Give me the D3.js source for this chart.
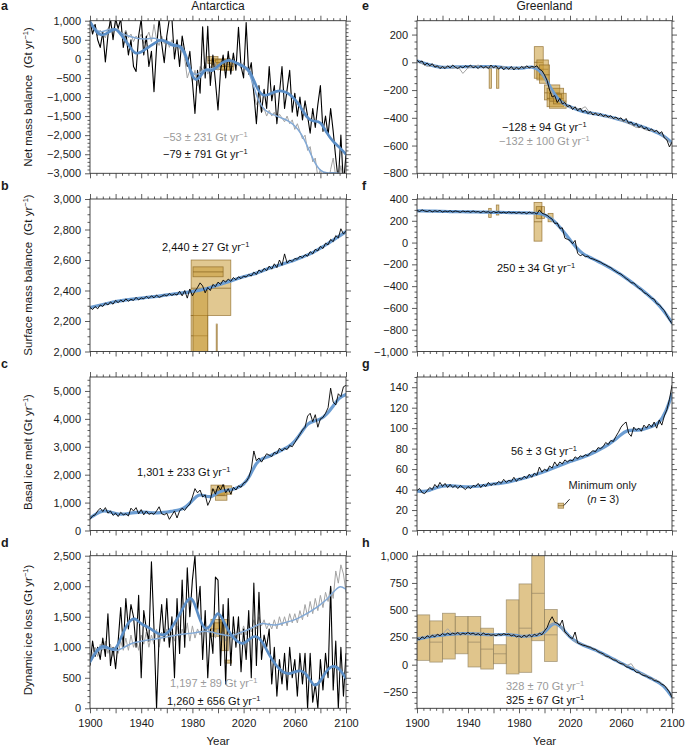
<!DOCTYPE html>
<html><head><meta charset="utf-8">
<script src="https://cdn.jsdelivr.net/npm/d3@7"></script>
<style>
body{margin:0;background:#fff}
svg{display:block}
text{font-family:"Liberation Sans",Arial,Helvetica,sans-serif;fill:#1a1a1a}
</style>
</head><body>
<svg id="chart" width="685" height="747"></svg>
<script>
// ---------------- DATA ----------------
const years2 = d3.range(1900, 2101, 2);   // annual-ish raw series (2-yr sampling)
const years4 = d3.range(1900, 2101, 4);
const years5 = d3.range(1900, 2101, 5);   // smoothed series
const xTickLabels = [1900, 1940, 1980, 2020, 2060, 2100];

// a: Antarctica net mass balance
const blackA = [1000,650,900,500,300,700,-80,600,1050,500,
  1050,800,1050,300,700,100,500,-200,-330,600,
  1050,100,600,-200,200,-860,300,1050,400,-100,
  600,1050,1050,0,500,-200,600,200,-200,200,
  -600,-1430,-300,-900,840,-500,850,-700,100,-600,
  -1340,-300,100,-500,200,-400,150,-300,830,-200,
  -500,950,-400,-100,-900,-1700,-700,-1400,-800,-1300,
  -200,-1100,-700,-1700,-900,-200,-1300,-800,-300,-1400,
  -900,-1500,-1000,-1600,-1100,-1500,-1950,-1300,-1800,-1200,
  -700,-1900,-1500,-2000,-1300,-1900,-2600,-3200,-2000,-3300,
  -2500];
const grayA = [950,800,900,600,750,650,550,800,900,750,
  950,800,650,600,750,550,650,450,600,500,
  650,400,550,700,450,900,500,350,600,400,
  550,300,500,350,450,250,400,0,-500,-300,
  -600,-300,-700,-200,-300,-100,-400,-200,-350,-100,
  -300,-100,0,-150,50,-100,0,-200,-100,-250,
  -100,-300,-200,-500,-900,-1200,-1100,-1400,-1300,-1500,
  -1350,-1500,-1400,-1600,-1450,-1550,-1650,-1500,-1700,-1600,
  -1850,-1700,-1900,-2100,-2000,-2400,-2300,-2700,-2600,-3100,
  -2900,-3200,-3000,-3300,-2900,-2600,-3100,-3300,-2800,-3200,
  -3300];
const blueA = [975,680,600,700,830,600,380,110,170,290,400,520,450,320,380,150,-560,-560,-220,-360,
  -180,-60,-20,-120,-200,-280,-760,-990,-930,-850,-830,-900,-1050,-1280,-1580,-1650,-1620,-1950,-2180,-2320,-2500];
const lblueA = [975,720,700,780,800,650,600,550,520,520,560,480,460,400,330,50,-450,-400,-250,-280,
  -200,-60,-40,-130,-200,-350,-1000,-1300,-1430,-1480,-1560,-1620,-1750,-1950,-2300,-2700,-2950,-3000,-2980,-3000,-3050];
const boxesA = [[1992,2000,-120,60,-40],[1995,2010,-280,0,-150],[2002,2012,-300,-80,-200],[1998,2006,-200,-20,-100]];

// b: Antarctica surface mass balance
const blackB = [2290,2275,2295,2280,2305,2295,2318,2305,2325,2310,
  2335,2320,2338,2325,2345,2330,2342,2335,2355,2338,
  2352,2345,2362,2348,2365,2352,2370,2355,2362,2372,
  2365,2380,2368,2378,2370,2395,2365,2400,2350,2410,
  2365,2395,2420,2450,2430,2385,2420,2400,2440,2425,
  2455,2440,2468,2455,2475,2460,2485,2470,2490,2478,
  2495,2488,2505,2495,2520,2505,2535,2520,2545,2530,
  2560,2540,2575,2550,2600,2565,2640,2580,2600,2590,
  2610,2605,2625,2615,2635,2625,2655,2640,2670,2660,
  2690,2675,2710,2700,2735,2720,2760,2745,2805,2770,
  2790];
const blueB = [2288,2298,2308,2318,2328,2334,2340,2345,2350,2356,2360,2365,2371,2376,2382,2388,2393,2400,2410,2422,
  2437,2450,2463,2477,2491,2502,2513,2530,2546,2559,2572,2586,2600,2616,2633,2653,2677,2703,2731,2758,2786];
const boxesB = [[1979,2010,2236,2600,2415],[1979,1992,1900,2236,2103],[1980.5,1992,1900,2405,null],
  [1980.5,2004,2490,2555,2522],[1998.6,1999.4,1990,2180,null]];

// c: Antarctica basal ice melt
const blackC = [400,520,560,700,800,680,820,620,700,540,
  620,500,650,560,600,520,800,700,820,600,
  750,560,700,580,620,580,700,850,600,560,
  620,400,550,700,450,700,800,720,850,950,
  1200,1500,1350,1450,1200,1280,900,1100,1500,1300,
  1600,1450,1650,1350,1500,1300,1550,1450,1600,1550,
  1700,1750,1900,2200,2850,2500,2600,2450,2600,2750,
  2700,2650,2800,2750,2950,2850,2950,2900,3050,3000,
  3150,3300,3450,3600,3700,4100,4200,3900,4150,3700,
  4000,4050,4200,4400,5100,4600,4500,4900,4800,5150,
  5200];
const blueC = [450,600,720,680,600,580,610,640,660,650,630,640,660,700,730,830,1080,1320,1230,1180,
  1380,1440,1450,1530,1630,1950,2460,2590,2650,2770,2890,2990,3190,3500,3850,3920,3980,4160,4460,4780,4870];
const boxesC = [[1994.5,2005,1265,1627,1450],[2000,2010.7,1300,1600,1420],[1998,2007,1084,1400,1250]];

// d: Antarctica dynamic ice loss
const blackD = [700,1100,850,1000,800,1150,850,1550,700,1000,
  650,1100,1650,1000,1800,1300,1700,1500,1000,1850,
  500,1600,1300,1100,2400,1300,0,1200,1700,1100,
  1800,1000,1500,500,1800,900,2100,1000,2300,1500,
  2100,2500,1600,2000,800,1600,500,1300,900,2150,
  2100,700,1700,400,1800,700,1500,1000,1500,600,
  1300,800,1600,500,2050,700,1900,800,1200,1000,
  1300,400,1000,200,800,400,900,300,1000,500,
  800,200,900,400,900,0,900,100,400,0,
  800,300,900,500,2000,300,1100,0,1000,200,
  900];
const grayD = [750,900,1000,850,1050,950,1100,900,1050,850,
  1000,900,1100,950,1150,950,1200,1000,1150,950,
  1200,1050,1250,1000,1200,1050,1300,1000,1250,1100,
  1300,1050,1250,1100,1350,1100,1300,1150,1400,1100,
  1350,1150,1300,1200,1400,1250,1350,1150,1300,1150,
  1300,1100,1250,1100,1300,1150,1250,1150,1350,1200,
  1350,1200,1400,1250,1450,1300,1500,1350,1450,1300,
  1400,1300,1450,1300,1500,1350,1500,1350,1550,1400,
  1550,1400,1600,1450,1700,1500,1750,1550,1800,1600,
  1850,1650,1900,1750,2000,1800,2250,2050,2350,2200,
  1900];
const blueD = [760,950,1040,980,930,1200,1420,1500,1370,1340,1260,1200,1200,1360,1530,1750,1860,1480,1260,1360,
  1640,1390,1200,1090,1040,1150,1200,1090,870,710,600,550,600,630,550,330,440,630,710,650,490];
const lblueD = [760,930,1000,980,930,980,1040,1080,1100,1120,1130,1150,1170,1190,1210,1220,1230,1250,1270,1250,
  1220,1200,1180,1220,1260,1300,1360,1400,1370,1360,1390,1420,1450,1500,1560,1620,1700,1780,1900,2020,1950];
const boxesD = [[1994.5,2003,1180,1457,1300],[2002,2008,944,1457,1200],[1997,2004,1230,1400,null],[2005.5,2010.5,740,790,null]];

// e: Greenland net mass balance
const blackE = [15,0,10,-20,-5,-25,-10,-35,-25,-45,
  -30,-45,-25,-40,-20,-35,-45,-30,-40,-25,
  -35,-20,-40,-30,-45,-25,-40,-30,-45,-20,
  -40,-25,-50,-30,-55,-35,-50,-30,-55,-35,
  -50,-30,-45,-25,-40,-30,-35,-25,-50,-60,
  -90,-130,-200,-250,-240,-290,-260,-300,-290,-320,
  -310,-340,-320,-350,-330,-360,-345,-370,-355,-380,
  -365,-385,-370,-390,-380,-395,-385,-405,-395,-410,
  -400,-425,-405,-440,-430,-455,-440,-470,-455,-480,
  -470,-495,-480,-500,-490,-515,-500,-545,-560,-610,
  -575];
const grayE = [10,-10,-30,-20,-30,-40,-30,-45,-30,-80,-40,-30,-20,-40,-30,-35,-40,-30,-50,-40,
  -45,-30,-40,-35,-45,-110,-180,-260,-280,-300,-325,-330,-340,-320,-370,-370,-380,-390,-400,-405,
  -420,-430,-450,-470,-470,-490,-490,-500,-520,-555,-590];
const blueE = [10,-5,-19,-30,-38,-35,-33,-32,-31,-31,-32,-31,-31,-35,-40,-42,-43,-38,-31,-45,
  -100,-190,-260,-300,-320,-340,-355,-365,-372,-380,-390,-402,-415,-430,-444,-460,-475,-492,-512,-540,-580];
const boxesE = [[1956.6,1958.4,-187,-43,null],[1962.4,1964.2,-187,-43,null],
  [1992,1999,-115,113,0],[1994,2003,-127,17,-50],[1996,2004,-151,-19,-90],
  [2000,2012,-271,-163,-220],[2002,2015,-320,-187,-260],[2004,2017,-331,-223,-280],[2007,2013.5,-300,-230,null]];

// f: Greenland surface mass balance
const blackF = [295,285,300,290,285,295,282,292,285,295,
  280,290,283,292,280,290,285,278,290,282,
  288,278,290,280,285,275,288,278,283,270,
  285,275,282,272,280,270,282,272,278,268,
  280,270,278,265,280,270,275,262,300,270,
  260,250,230,215,175,180,130,135,40,30,
  20,-10,20,-100,-120,-110,-130,-125,-145,-150,
  -160,-170,-180,-195,-205,-220,-230,-250,-265,-280,
  -290,-310,-330,-345,-370,-370,-395,-420,-430,-460,
  -470,-490,-510,-520,-560,-570,-600,-625,-670,-710,
  -745];
const blueF = [292,290,289,288,286,285,284,283,282,281,280,279,278,277,276,275,274,273,272,268,
  258,225,170,100,25,-50,-105,-132,-162,-190,-222,-258,-294,-335,-377,-422,-469,-520,-576,-650,-736];
const boxesF = [[1991.8,1998,13,369,191],[1993.5,1997.5,222,330,270],[1997.5,2000,222,330,null],
  [2002.8,2006.7,191,268,null],[1956.2,1958.2,231,314,null],[1962.2,1964.2,253,345,null]];

// g: Greenland basal ice melt
const blackG = [39,41,37,36,39,42,40,45,42,47,
  43,46,42,45,42,44,41,44,42,40,
  43,41,44,43,46,42,45,43,47,44,
  46,45,48,46,50,47,49,48,52,48,
  51,50,53,51,55,52,56,54,62,57,
  60,58,63,61,67,63,67,65,69,67,
  69,68,72,70,73,72,74,73,76,78,
  77,81,80,82,86,84,88,87,92,96,
  101,104,106,95,92,101,98,100,97,103,
  100,104,101,106,100,108,103,112,118,128,
  142];
const blueG = [38.5,38,39,42,43.5,44,43.5,43,42.5,43,43.5,44.5,45.5,46,47,48.5,50,51.5,53.5,55.5,
  57.5,60,62.5,65,67.5,69.5,71.5,74,77,80,84,88,94,98,98,98,100,102,105,115,133];
const boxesG = [[2010.6,2015,21.8,26.7,24.2]];

// h: Greenland dynamic ice loss
const blackH = [240,230,255,240,265,250,270,255,280,265,
  285,270,290,275,290,280,295,275,290,280,
  295,280,290,275,285,270,290,275,280,270,
  275,265,280,270,285,275,280,265,275,255,
  265,250,270,255,275,255,280,265,290,275,
  310,340,400,440,390,380,360,410,300,280,
  250,240,300,200,190,180,175,165,160,145,
  140,120,110,100,80,75,60,45,40,20,
  10,5,-20,-25,-40,-45,-70,-70,-90,-100,
  -105,-120,-125,-145,-150,-160,-180,-190,-220,-250,
  -300];
const grayH = [240,250,260,270,275,280,330,280,290,280,285,280,290,275,275,270,275,280,275,270,
  260,265,260,270,280,300,360,380,370,290,260,210,195,175,160,135,110,80,55,45,
  15,-10,10,-60,-80,-100,-130,-140,-175,-210,-290];
const blueH = [235,245,258,265,272,278,282,285,286,283,280,276,274,276,278,272,262,260,265,272,
  290,370,385,320,250,210,180,158,135,105,75,45,15,-15,-45,-75,-105,-135,-165,-210,-295];
const boxesH = [[1900,1910,40,457,250],[1910,1920,24,402,207],[1920,1930,52,472,270],[1930,1940,100,442,280],
  [1940,1950,-21,442,207],[1950,1960,-40,335,143],[1960,1970,9,183,100],[1970,1980,-85,595,270],
  [1980,1990,-70,741,335],[1990,2000,220,1050,655],[2000,2010,30,506,274]];

// ---------------- LAYOUT ----------------
const COLS = [[90,346],[417,672]];
const ROWS = [[20.7,173.3],[199,351.5],[377,530.5],[555.7,708.3]];

const panels = [
  {id:"a",col:0,row:0,domain:[-3000,1000],major:500,minor:100,black:blackA,gray:grayA,grayYears:years2,blue:blueA,lblue:lblueA,boxes:boxesA,blueTop:true,
   ylabel:["Net mass balance  (Gt yr","−1",")"],ylabelY:97,
   notes:[{t:"−53 ± 231",c:"#9a9a9a",dx:73,dy:120},{t:"−79 ± 791",c:"#111",dx:73,dy:137}]},
  {id:"b",col:0,row:1,domain:[2000,3000],major:200,minor:50,black:blackB,blue:blueB,boxes:boxesB,
   ylabel:["Surface mass balance  (Gt yr","−1",")"],ylabelY:275,
   notes:[{t:"2,440 ± 27",c:"#111",dx:72,dy:52}]},
  {id:"c",col:0,row:2,domain:[0,5500],major:1000,minor:200,black:blackC,blue:blueC,boxes:boxesC,
   ylabel:["Basal ice melt (Gt yr","−1",")"],ylabelY:452,
   notes:[{t:"1,301 ± 233",c:"#111",dx:47,dy:99}]},
  {id:"d",col:0,row:3,domain:[0,2500],major:500,minor:100,black:blackD,gray:grayD,grayYears:years2,blue:blueD,lblue:lblueD,boxes:boxesD,blueTop:true,
   ylabel:["Dynamic ice loss (Gt yr","−1",")"],ylabelY:630,
   notes:[{t:"1,197 ± 89",c:"#9a9a9a",dx:80,dy:131},{t:"1,260 ± 656",c:"#111",dx:77,dy:149}]},
  {id:"e",col:1,row:0,domain:[-800,300],major:200,minor:50,black:blackE,gray:grayE,grayYears:years4,blue:blueE,boxes:boxesE,
   notes:[{t:"−128 ± 94",c:"#111",dx:85,dy:110},{t:"−132 ± 100",c:"#9a9a9a",dx:82,dy:124}]},
  {id:"f",col:1,row:1,domain:[-1000,400],major:200,minor:50,black:blackF,blue:blueF,boxes:boxesF,
   notes:[{t:"250 ± 34",c:"#111",dx:80,dy:73}]},
  {id:"g",col:1,row:2,domain:[0,150],major:20,minor:5,black:blackG,blue:blueG,boxes:boxesG,
   notes:[{t:"56 ± 3",c:"#111",dx:94,dy:78}]},
  {id:"h",col:1,row:3,domain:[-400,1000],major:250,minor:50,black:blackH,gray:grayH,grayYears:years4,blue:blueH,boxes:boxesH,lightBoxes:true,
   notes:[{t:"328 ± 70",c:"#9a9a9a",dx:89,dy:134},{t:"325 ± 67",c:"#111",dx:89,dy:148}]}
];

const svg = d3.select("#chart");
const fmt = d3.format(",");
const FS = 11;

function gtText(sel, prefix) {
  sel.append("tspan").text(prefix + " Gt yr");
  sel.append("tspan").attr("dy", -4).attr("font-size", 7.5).text("−1");
}
function stepTicks(domain, step) {
  const start = Math.ceil(domain[0] / step - 1e-9) * step;
  return d3.range(start, domain[1] + 1e-9, step);
}

panels.forEach(p => {
  const [x0, x1] = COLS[p.col];
  const [y0, y1] = ROWS[p.row];
  const x = d3.scaleLinear([1900, 2100], [x0, x1]);
  const y = d3.scaleLinear(p.domain, [y1, y0]);
  const g = svg.append("g");

  const clipId = "clip-" + p.id;
  svg.append("clipPath").attr("id", clipId)
    .append("rect").attr("x", x0).attr("y", y0).attr("width", x1 - x0).attr("height", y1 - y0);
  const plot = g.append("g").attr("clip-path", `url(#${clipId})`);

  // boxes
  const bx = plot.append("g");
  p.boxes.forEach(b => {
    bx.append("rect")
      .attr("x", x(b[0])).attr("width", Math.max(1, x(b[1]) - x(b[0])))
      .attr("y", y(b[3])).attr("height", y(b[2]) - y(b[3]))
      .attr("fill", p.lightBoxes ? "#d2aa55" : "#c99a36")
      .attr("fill-opacity", p.lightBoxes ? 0.68 : 0.55)
      .attr("stroke", p.lightBoxes ? "#8f8060" : "#8a6420")
      .attr("stroke-opacity", 0.75).attr("stroke-width", 0.8);
    if (b[4] != null) {
      bx.append("line").attr("x1", x(b[0])).attr("x2", x(b[1]))
        .attr("y1", y(b[4])).attr("y2", y(b[4]))
        .attr("stroke", p.lightBoxes ? "#8f8060" : "#7a5818").attr("stroke-opacity", 0.8).attr("stroke-width", 0.8);
    }
  });

  const line = (yrs, vals, curve) => d3.line().x((d, i) => x(yrs[i])).y(d => y(d)).curve(curve || d3.curveLinear)(vals);

  const drawGray = () => { if (p.gray) plot.append("path").attr("d", line(p.grayYears, p.gray)).attr("fill", "none").attr("stroke", "#a3a3a3").attr("stroke-width", 1); };
  const drawBlack = () => plot.append("path").attr("d", line(years2, p.black)).attr("fill", "none").attr("stroke", "#000").attr("stroke-width", p.blueTop ? 1.1 : 0.9).attr("stroke-linejoin", "round");
  const drawLBlue = () => { if (p.lblue) plot.append("path").attr("d", line(years5, p.lblue, d3.curveBasis)).attr("fill", "none").attr("stroke", "#82a9d6").attr("stroke-width", 1.5); };
  const drawBlue = () => plot.append("path").attr("d", line(years5, p.blue, d3.curveBasis)).attr("fill", "none")
      .attr("stroke", p.blueTop ? "#5b8ec6" : "#6c9dd2").attr("stroke-width", p.blueTop ? 2.7 : 3.2).attr("stroke-linecap", "round");

  if (p.blueTop) { drawGray(); drawBlack(); drawLBlue(); drawBlue(); }
  else { drawBlue(); drawGray(); drawBlack(); }

  // frame
  g.append("rect").attr("x", x0).attr("y", y0).attr("width", x1 - x0).attr("height", y1 - y0)
    .attr("fill", "none").attr("stroke", "#333").attr("stroke-width", 0.9);

  // y ticks
  const maj = stepTicks(p.domain, p.major);
  const mnr = stepTicks(p.domain, p.minor).filter(v => !maj.some(m => Math.abs(m - v) < 1e-6));
  const styleAxis = s => {
    s.select(".domain").remove();
    s.selectAll("line").attr("stroke", "#333").attr("stroke-width", 0.8);
    s.selectAll("text").attr("font-size", FS).attr("fill", "#1a1a1a").attr("font-family", null);
  };
  g.append("g").attr("transform", `translate(${x0},0)`).call(d3.axisLeft(y).tickValues(maj).tickSize(5).tickPadding(4).tickFormat(fmt)).call(styleAxis);
  g.append("g").attr("transform", `translate(${x0},0)`).call(d3.axisLeft(y).tickValues(mnr).tickSize(2.5).tickFormat("")).call(styleAxis);
  g.append("g").attr("transform", `translate(${x1},0)`).call(d3.axisRight(y).tickValues(maj).tickSize(5).tickFormat("")).call(styleAxis);
  g.append("g").attr("transform", `translate(${x1},0)`).call(d3.axisRight(y).tickValues(mnr).tickSize(2.5).tickFormat("")).call(styleAxis);

  // x ticks
  const xmaj = d3.range(1900, 2101, 20);
  const xmin = d3.range(1900, 2101, 5).filter(v => v % 20 !== 0);
  const bottomRow = p.row === 3;
  g.append("g").attr("transform", `translate(0,${y0})`).call(d3.axisTop(x).tickValues(xmaj).tickSize(5).tickFormat("")).call(styleAxis);
  g.append("g").attr("transform", `translate(0,${y0})`).call(d3.axisTop(x).tickValues(xmin).tickSize(2.5).tickFormat("")).call(styleAxis);
  g.append("g").attr("transform", `translate(0,${y1})`).call(d3.axisBottom(x).tickValues(xmaj).tickSize(5).tickPadding(6)
      .tickFormat(d => bottomRow && xTickLabels.includes(d) ? String(d) : "")).call(styleAxis);
  g.append("g").attr("transform", `translate(0,${y1})`).call(d3.axisBottom(x).tickValues(xmin).tickSize(2.5).tickFormat("")).call(styleAxis);

  if (bottomRow) {
    g.append("text").attr("x", (x0 + x1) / 2).attr("y", 745).attr("text-anchor", "middle").attr("font-size", 11.5).text("Year");
  }

  // y label
  if (p.ylabel) {
    const t = g.append("text").attr("transform", `translate(32,${p.ylabelY}) rotate(-90)`).attr("text-anchor", "middle")
      .attr("font-size", 11.5).style("white-space", "pre");
    t.append("tspan").text(p.ylabel[0]);
    t.append("tspan").attr("dy", -4).attr("font-size", 7.5).text(p.ylabel[1]);
    t.append("tspan").attr("dy", 4).text(p.ylabel[2]);
  }

  // panel letter
  g.append("text").attr("x", p.col === 0 ? 1 : 362).attr("y", y0 - 11.5 + (p.row === 0 ? 0.3 : 2.5))
    .attr("font-size", 12.5).attr("font-weight", "bold").text(p.id);

  // annotations
  p.notes.forEach(n => {
    const t = g.append("text").attr("x", x0 + n.dx).attr("y", y0 + n.dy).attr("font-size", FS).style("fill", n.c);
    gtText(t, n.t);
  });

  if (p.id === "g") {
    g.append("line").attr("x1", x(2015.2)).attr("y1", y(24.4)).attr("x2", x(2019.7)).attr("y2", y(30.6))
      .attr("stroke", "#111").attr("stroke-width", 0.9);
    g.append("text").attr("x", x0 + 185.5).attr("y", y0 + 112).attr("text-anchor", "middle").attr("font-size", FS).text("Minimum only");
    const t2 = g.append("text").attr("x", x0 + 186).attr("y", y0 + 126).attr("text-anchor", "middle").attr("font-size", FS);
    t2.append("tspan").text("(");
    t2.append("tspan").attr("font-style", "italic").text("n");
    t2.append("tspan").text(" = 3)");
  }
});

// column titles
svg.append("text").attr("x", (COLS[0][0] + COLS[0][1]) / 2).attr("y", 10).attr("text-anchor", "middle").attr("font-size", 12).text("Antarctica");
svg.append("text").attr("x", (COLS[1][0] + COLS[1][1]) / 2).attr("y", 10).attr("text-anchor", "middle").attr("font-size", 12).text("Greenland");
</script>
</body></html>
